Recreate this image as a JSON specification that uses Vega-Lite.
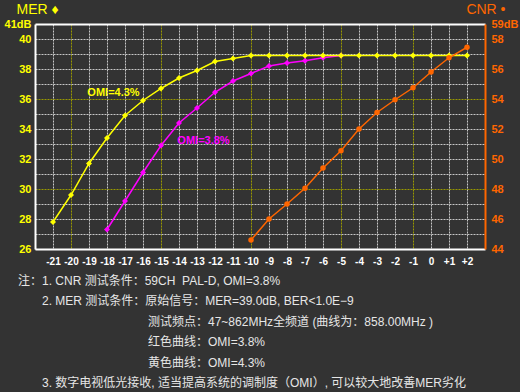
{
  "$schema": "https://vega.github.io/schema/vega-lite/v6.json",
  "width": 450,
  "height": 225,
  "autosize": "none",
  "padding": {"left": 35, "top": 24, "right": 35, "bottom": 143},
  "background": "#333333",
  "config": {
    "view": {"stroke": null},
    "axis": {"labelFont": "Liberation Sans", "titleFont": "Liberation Sans", "ticks": false, "tickSize": 0, "labelOverlap": false, "labelFlush": false}
  },
  "title": {
    "text": [
      "注：1. CNR\u00a0测试条件：59CH\u00a0\u00a0PAL-D, OMI=3.8%",
      "\u200b\u3000\u30002. MER\u00a0测试条件：原始信号：MER=39.0dB, BER<1.0E−9",
      "\u200b\u3000\u3000\u3000\u3000\u3000\u3000\u3000\u3000\u3000\u3000\u00a0\u00a0\u00a0测试频点：47~862MHz全频道 (曲线为：858.00MHz )",
      "\u200b\u3000\u3000\u3000\u3000\u3000\u3000\u3000\u3000\u3000\u3000\u00a0\u00a0\u00a0红色曲线：OMI=3.8%",
      "\u200b\u3000\u3000\u3000\u3000\u3000\u3000\u3000\u3000\u3000\u3000\u00a0\u00a0\u00a0黄色曲线：OMI=4.3%",
      "\u200b\u3000\u30003. 数字电视低光接收, 适当提高系统的调制度（OMI）, 可以较大地改善MER劣化"
    ],
    "orient": "bottom",
    "anchor": "start",
    "align": "left",
    "frame": "group",
    "dx": -17,
    "offset": 10,
    "baseline": "top",
    "lineHeight": 20.4,
    "font": "Liberation Sans, Noto Sans CJK SC",
    "fontSize": 12,
    "fontWeight": "normal",
    "color": "#e6e6e6"
  },
  "datasets": {
    "omi43": [
      {"x": -21, "mer": 27.8}, {"x": -20, "mer": 29.6}, {"x": -19, "mer": 31.7}, {"x": -18, "mer": 33.4},
      {"x": -17, "mer": 34.9}, {"x": -16, "mer": 35.9}, {"x": -15, "mer": 36.7}, {"x": -14, "mer": 37.4},
      {"x": -13, "mer": 37.9}, {"x": -12, "mer": 38.5}, {"x": -11, "mer": 38.7}, {"x": -10, "mer": 38.9},
      {"x": -9, "mer": 38.9}, {"x": -8, "mer": 38.9}, {"x": -7, "mer": 38.9}, {"x": -6, "mer": 38.9},
      {"x": -5, "mer": 38.9}, {"x": -4, "mer": 38.9}, {"x": -3, "mer": 38.9}, {"x": -2, "mer": 38.9},
      {"x": -1, "mer": 38.9}, {"x": 0, "mer": 38.9}, {"x": 1, "mer": 38.9}, {"x": 2, "mer": 38.9}
    ],
    "omi38": [
      {"x": -18, "mer": 27.3}, {"x": -17, "mer": 29.2}, {"x": -16, "mer": 31.1}, {"x": -15, "mer": 32.9},
      {"x": -14, "mer": 34.4}, {"x": -13, "mer": 35.4}, {"x": -12, "mer": 36.45}, {"x": -11, "mer": 37.2},
      {"x": -10, "mer": 37.7}, {"x": -9, "mer": 38.2}, {"x": -8, "mer": 38.4}, {"x": -7, "mer": 38.55},
      {"x": -6, "mer": 38.75}, {"x": -5, "mer": 38.9}
    ],
    "cnr": [
      {"x": -10, "cnr": 44.6}, {"x": -9, "cnr": 46.0}, {"x": -8, "cnr": 47.0}, {"x": -7, "cnr": 48.05},
      {"x": -6, "cnr": 49.4}, {"x": -5, "cnr": 50.55}, {"x": -4, "cnr": 52.0}, {"x": -3, "cnr": 53.1},
      {"x": -2, "cnr": 53.95}, {"x": -1, "cnr": 54.75}, {"x": 0, "cnr": 55.8}, {"x": 1, "cnr": 56.75},
      {"x": 2, "cnr": 57.45}
    ]
  },
  "encoding": {
    "x": {
      "field": "x",
      "type": "quantitative",
      "scale": {"domain": [-22, 3], "nice": false, "zero": false},
      "axis": {
        "title": null,
        "values": [-21, -20, -19, -18, -17, -16, -15, -14, -13, -12, -11, -10, -9, -8, -7, -6, -5, -4, -3, -2, -1, 0, 1, 2],
        "labelExpr": "datum.value > 0 ? '+' + datum.value : '' + datum.value",
        "labelColor": "#ffffff",
        "labelFontSize": 10,
        "labelFontWeight": "bold",
        "labelPadding": 7,
        "domainColor": "#ffffff",
        "domainWidth": 2,
        "grid": true,
        "gridColor": {"condition": {"test": "indexof([-20, -15, -10, -5, -1], datum.value) >= 0", "value": "#9a9a00"}, "value": "#c8c8c8"},
        "gridDash": [2, 1],
        "gridWidth": 1
      }
    }
  },
  "layer": [
    {
      "encoding": {
        "y": {
          "field": "mer",
          "type": "quantitative",
          "scale": {"domain": [26, 41], "nice": false, "zero": false},
          "axis": {
            "orient": "left",
            "values": [26, 27, 28, 29, 30, 31, 32, 33, 34, 35, 36, 37, 38, 39, 40, 41],
            "labelExpr": "datum.value == 41 ? '41dB' : (datum.value % 2 == 0 ? datum.label : '')",
            "labelColor": "#ffff00",
            "labelFontSize": 11,
            "labelFontWeight": "bold",
            "labelPadding": 4,
            "domainColor": "#ffffff",
            "domainWidth": 2,
            "grid": true,
            "gridColor": {"condition": [{"test": "datum.value == 41", "value": "#ffffff"}, {"test": "datum.value == 30 || datum.value == 36", "value": "#9a9a00"}], "value": "#c8c8c8"},
            "gridDash": {"condition": {"test": "datum.value == 41", "value": []}, "value": [2, 1]},
            "gridWidth": {"condition": {"test": "datum.value == 41", "value": 2}, "value": 1},
            "title": "MER ♦",
            "titleAngle": 0,
            "titleX": -19,
            "titleY": -15,
            "titleAlign": "left",
            "titleBaseline": "middle",
            "titleColor": "#ffff00",
            "titleFontSize": 14,
            "titleFontWeight": "normal"
          }
        }
      },
      "layer": [
        {
          "data": {"name": "omi38"},
          "mark": {"type": "line", "color": "#ff00ff", "strokeWidth": 1.5, "point": {"shape": "diamond", "filled": true, "size": 36, "color": "#ff00ff"}}
        },
        {
          "data": {"name": "omi43"},
          "mark": {"type": "line", "color": "#ffff00", "strokeWidth": 1.5, "point": {"shape": "diamond", "filled": true, "size": 36, "color": "#ffff00"}}
        },
        {
          "data": {"name": "omi43"},
          "transform": [{"filter": "datum.x == -17"}],
          "mark": {"type": "text", "text": "OMI=4.3%", "dx": -11.5, "dy": -23, "font": "Liberation Sans", "fontSize": 11, "fontWeight": "bold", "color": "#ffff00"}
        },
        {
          "data": {"name": "omi38"},
          "transform": [{"filter": "datum.x == -14"}],
          "mark": {"type": "text", "text": "OMI=3.8%", "dx": 24.5, "dy": 18.4, "font": "Liberation Sans", "fontSize": 11, "fontWeight": "bold", "color": "#ff00ff"}
        }
      ]
    },
    {
      "data": {"name": "cnr"},
      "mark": {"type": "line", "color": "#ff6600", "strokeWidth": 1.5, "point": {"shape": "circle", "filled": true, "size": 30, "color": "#ff6600", "opacity": 1}},
      "encoding": {
        "y": {
          "field": "cnr",
          "type": "quantitative",
          "scale": {"domain": [44, 59], "nice": false, "zero": false},
          "axis": {
            "orient": "right",
            "values": [44, 46, 48, 50, 52, 54, 56, 58, 59],
            "labelExpr": "datum.value == 59 ? '59dB' : datum.label",
            "labelColor": "#ff6600",
            "labelFontSize": 11,
            "labelFontWeight": "bold",
            "labelPadding": 6,
            "domainColor": "#ff6600",
            "domainWidth": 2,
            "grid": false,
            "title": "CNR •",
            "titleAngle": 0,
            "titleX": 20,
            "titleY": -15,
            "titleAlign": "right",
            "titleBaseline": "middle",
            "titleColor": "#ff6600",
            "titleFontSize": 14,
            "titleFontWeight": "normal"
          }
        }
      }
    }
  ],
  "resolve": {"scale": {"y": "independent"}}
}
